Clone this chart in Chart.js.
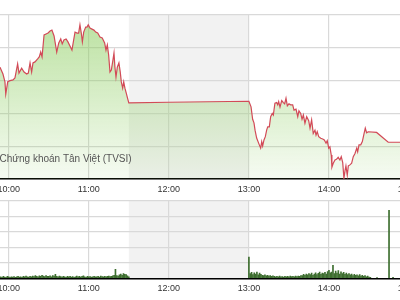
<!DOCTYPE html>
<html><head><meta charset="utf-8">
<script src="https://cdn.jsdelivr.net/npm/chart.js@4"></script>
<style>
html,body{margin:0;padding:0;background:#fff;overflow:hidden;width:400px;height:300px;}
#wrap{position:relative;width:400px;height:300px;overflow:hidden;background:#fff;}
#c1{position:absolute;left:-20px;top:0;}
#c2{position:absolute;left:-20px;top:196px;}
</style></head><body>
<div id="wrap">
<canvas id="c1" width="450" height="196"></canvas>
<canvas id="c2" width="450" height="104"></canvas>
</div>
<script>
// ---- data ----
const hourTicks = [600, 660, 720, 780, 840, 900];
const hourLabels = ['10:00', '11:00', '12:00', '13:00', '14:00', '15:00'];
const lunchStart = 690, lunchEnd = 780;
const watermark = 'Chứng khoán Tân Việt (TVSI)';

// price (time in minutes since midnight)
const priceTimes = [593.5,595.7,597.2,597.8,599.3,601.0,603.2,604.7,606.7,607.7,609.7,611.5,613.5,614.7,616.0,617.2,618.2,619.7,621.7,622.9,624.0,625.0,626.5,628.0,629.5,631.0,632.4,634.0,636.0,637.5,639.0,640.1,641.4,643.0,644.4,646.0,647.4,648.7,649.7,651.2,652.4,653.4,654.4,655.2,656.2,657.7,658.7,659.6,660.9,662.4,663.9,665.2,666.7,668.4,670.1,671.9,672.9,673.9,674.9,675.9,676.9,677.9,678.9,679.6,680.4,681.4,682.6,683.6,684.4,685.4,686.2,687.1,688.1,689.2,690.0,720.0,780.0,
781.6,782.8,783.8,784.6,785.8,787.8,788.8,789.6,790.3,791.3,792.3,793.3,794.1,795.3,796.3,797.5,798.3,799.5,800.8,801.6,802.3,803.3,804.6,805.8,806.8,807.8,808.8,810.0,811.3,812.8,813.8,815.3,816.6,817.5,818.8,819.8,820.8,822.0,823.3,824.8,825.8,827.0,828.2,829.5,830.3,831.2,832.3,833.8,835.3,836.5,837.8,838.7,839.8,840.7,841.7,842.2,843.2,844.5,845.6,846.9,848.2,849.2,850.3,851.2,852.0,852.7,853.7,854.5,855.7,857.0,858.2,859.5,860.8,861.5,862.5,863.8,865.0,866.2,867.2,868.2,869.4,875.7,884.4,893.2,900.0];
const priceValues = [3.41,3.20,2.96,2.59,2.97,3.00,3.02,3.08,3.51,3.23,3.38,3.26,3.20,3.23,3.54,3.26,3.54,3.57,3.66,3.72,3.87,3.72,4.39,4.42,4.45,4.51,4.54,4.36,3.87,4.15,4.27,4.12,4.24,4.27,4.18,4.05,3.93,4.24,4.48,4.45,4.45,4.70,4.45,4.18,4.48,4.63,4.63,4.70,4.60,4.57,4.54,4.48,4.45,4.33,4.30,4.15,3.93,4.09,3.78,3.26,3.32,3.57,3.84,3.41,3.11,3.41,3.54,3.26,2.96,2.77,2.96,2.77,2.62,2.44,2.32,2.34,2.37,
2.20,1.82,1.71,1.49,1.25,1.04,0.94,1.14,1.01,1.19,1.29,1.49,1.59,1.59,1.90,2.00,1.95,2.31,2.33,2.26,2.36,2.19,2.39,2.33,2.29,2.46,2.23,2.29,2.26,2.26,2.10,2.13,1.90,2.08,2.00,1.82,1.95,1.70,1.90,1.78,1.55,1.80,1.39,1.49,1.34,1.44,1.29,1.24,1.22,1.19,1.09,1.17,0.94,0.98,0.73,0.36,0.48,0.58,0.60,0.66,0.58,0.68,0.50,0.02,0.25,0.40,0.12,0.40,0.43,0.48,0.68,0.78,0.94,0.83,1.04,1.04,1.14,1.37,1.55,1.41,1.44,1.42,1.12,1.12,1.12];

// volume (thousand shares), one bar per minute
const volMorningStart = 594;
const volMorning = [10,6,12,8,7,12,9,6,10,8,11,7,
 9,13,8,10,6,12,9,14,10,8,12,9,
 15,11,18,13,10,16,12,19,14,11,17,13,
 12,16,10,18,14,26,12,9,14,11,8,12,
 10,7,12,9,13,8,11,7,10,14,9,12,
 8,13,16,10,7,12,9,11,8,10,13,9,
 10,12,8,14,11,9,13,10,12,15,11,13,
 16,20,58,18,14,22,28,20,30,26,24,16,10];
const volAfternoonStart = 780;
const volAfternoon = [138,
 30,38,24,36,28,40,22,34,26,20,
 18,22,16,20,14,18,12,16,13,10,
 12,9,14,10,11,8,13,10,12,9,14,11,
 12,10,14,11,15,12,18,17,26,19,28,22,
 30,24,34,20,28,36,24,32,40,26,34,30,
 38,28,44,52,36,40,84,30,46,34,50,28,
 42,30,38,26,34,24,30,22,28,18,26,20,
 22,16,24,14,20,12,18,10,14,8,6];
const volLateTimes = [876, 885, 888];
const volLate = [5, 440, 6];

const priceTicks = [0, 1, 2, 3, 4, 5];
const volTicks = [0, 100, 200, 300, 400, 500];

// ---- build ----
const xMin = 578.5, xMax = 915.7;
const gridColor = '#d9d9d9';
const labelFont = {family: 'Arial, "Liberation Sans", sans-serif', size: 9};

function xScale(h, pad) {
  return {
    type: 'linear', min: xMin, max: xMax, offset: false,
    afterBuildTicks: s => { s.ticks = hourTicks.map(v => ({value: v})); },
    afterFit: s => { s.height = h; },
    ticks: {padding: pad, color: '#333', font: labelFont, maxRotation: 0, autoSkip: false,
      callback: v => hourLabels[hourTicks.indexOf(v)]},
    grid: {color: gridColor, lineWidth: 1.2, drawTicks: false, offset: false},
    border: {display: true, color: '#000', width: 1.5}
  };
}
function yScale(min, max, ticks) {
  return {
    type: 'linear', min, max,
    afterBuildTicks: s => { s.ticks = ticks.map(v => ({value: v})); },
    afterFit: s => { s.width = 0; },
    ticks: {display: false},
    grid: {color: gridColor, lineWidth: 1.2, drawTicks: false, display: true},
    border: {display: false}
  };
}
const lunchShade = {
  id: 'lunchShade',
  beforeDraw(chart) {
    const {ctx, chartArea: a, scales: {x}} = chart;
    const x0 = x.getPixelForValue(lunchStart), x1 = x.getPixelForValue(lunchEnd);
    ctx.save(); ctx.fillStyle = '#f2f2f2';
    ctx.fillRect(x0, a.top, x1 - x0, a.bottom - a.top);
    ctx.restore();
  }
};
const wmPlugin = {
  id: 'wm',
  afterDatasetsDraw(chart) {
    const {ctx, chartArea: a} = chart;
    ctx.save();
    ctx.font = '10px Arial, "Liberation Sans", sans-serif';
    ctx.fillStyle = '#555';
    ctx.textBaseline = 'middle';
    ctx.fillText(watermark, a.left + 19.5, a.bottom - 20);
    ctx.restore();
  }
};

new Chart(document.getElementById('c1'), {
  type: 'line',
  data: {datasets: [{
    data: priceTimes.map((t, i) => ({x: t, y: priceValues[i]})),
    borderColor: '#d24a57', borderWidth: 1.2, pointRadius: 0, tension: 0,
    fill: 'start',
    backgroundColor: ctx => {
      const a = ctx.chart.chartArea;
      if (!a) return 'rgba(140,205,95,0.3)';
      const g = ctx.chart.ctx.createLinearGradient(0, a.top, 0, a.bottom);
      g.addColorStop(0, 'rgba(140,205,95,0.6)');
      g.addColorStop(1, 'rgba(140,205,95,0.08)');
      return g;
    }
  }]},
  options: {
    responsive: false, animation: false, devicePixelRatio: 1,
    layout: {padding: {top: 15, left: 0, right: 0, bottom: 0}},
    plugins: {legend: {display: false}, tooltip: {enabled: false}},
    scales: {x: xScale(17, 5.6), y: yScale(0, 5, priceTicks)}
  },
  plugins: [lunchShade, wmPlugin]
});

const volData = []
  .concat(volMorning.map((v, i) => ({x: volMorningStart + i, y: v})))
  .concat(volAfternoon.map((v, i) => ({x: volAfternoonStart + i, y: v})))
  .concat(volLate.map((v, i) => ({x: volLateTimes[i], y: v})));

new Chart(document.getElementById('c2'), {
  type: 'bar',
  data: {datasets: [{data: volData, backgroundColor: '#3d6e2f', barThickness: 1}]},
  options: {
    responsive: false, animation: false, devicePixelRatio: 1,
    layout: {padding: {top: 5, left: 0, right: 0, bottom: 0}},
    plugins: {legend: {display: false}, tooltip: {enabled: false}},
    scales: {x: xScale(21.7, 5.3), y: yScale(0, 500, volTicks)}
  },
  plugins: [lunchShade]
});
</script>
</body></html>
